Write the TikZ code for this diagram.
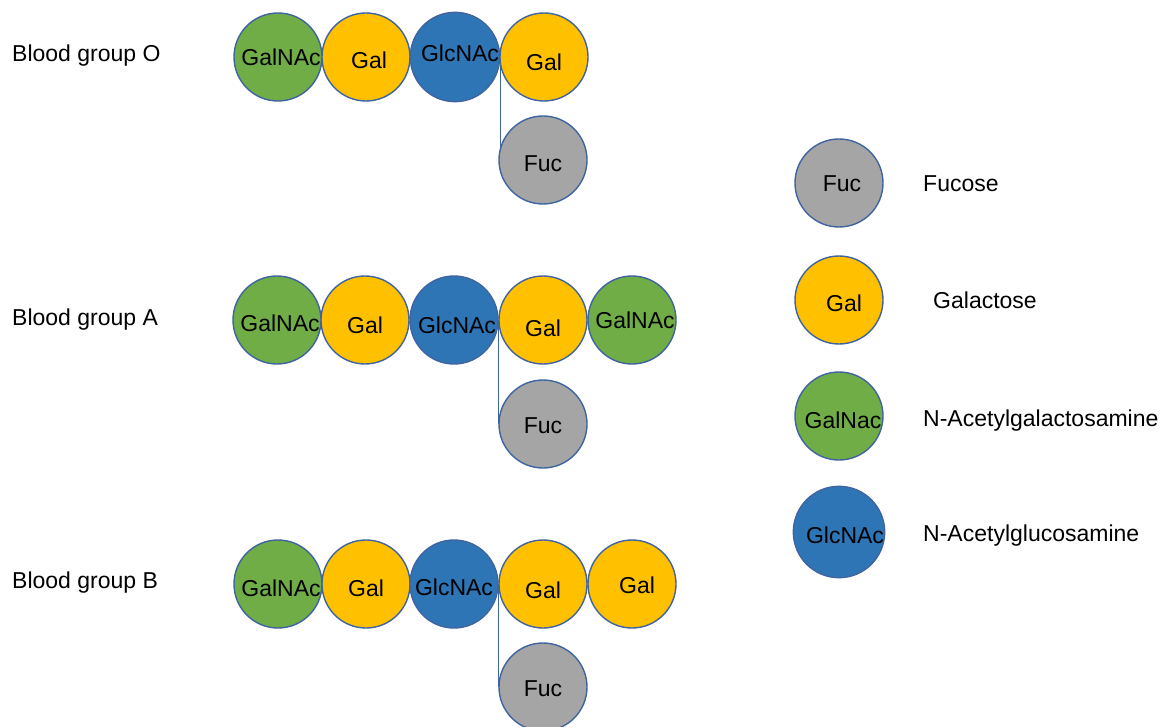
\documentclass[tikz,border=0pt]{standalone}
\usepackage{fontspec}
\setmainfont{Liberation Sans}
\usetikzlibrary{backgrounds}
\definecolor{outl}{HTML}{3F64A0}
\definecolor{cgreen}{HTML}{70AD47}
\definecolor{cgold}{HTML}{FFC000}
\definecolor{cblue}{HTML}{2E75B6}
\definecolor{cgray}{HTML}{A5A5A5}
\begin{document}
\begin{tikzpicture}[x=1pt,y=-1pt,
  sug/.style={circle,draw=outl,line width=1.4pt,minimum size=88pt,inner sep=0pt,
    font=\fontsize{23}{26}\selectfont,text height=16.5pt,text depth=0pt},
  galnac/.style={sug,fill=cgreen},
  gal/.style={sug,fill=cgold},
  glcnac/.style={sug,fill=cblue},
  fuc/.style={sug,fill=cgray},
  lbl/.style={anchor=west,inner sep=0pt,font=\fontsize{23}{26}\selectfont,text height=16.5pt,text depth=0pt},
  link/.style={draw=outl,line width=1.4pt}]
\useasboundingbox (0,0) rectangle (1164,727);

% Row labels
\node[lbl] (lO) at (12,53) {Blood group O};
\node[lbl] (lA) at (12,317) {Blood group A};
\node[lbl] (lB) at (12,580) {Blood group B};

% Blood group O
\node[galnac] (o1) at (278,57) {\hspace*{6pt}GalNAc};
\node[gal] (o2) at (366,57) {\raisebox{-3pt}{\hspace*{6pt}Gal}};
\node[glcnac] (o3) at (455,57) {\raisebox{4pt}{\hspace*{10pt}GlcNAc}};
\node[gal] (o4) at (544,57) {\raisebox{-5pt}{Gal}};
\node[fuc] (o5) at (543,160) {\raisebox{-3pt}{Fuc}};

% Blood group A
\node[galnac] (a1) at (277,320) {\raisebox{-3pt}{\hspace*{6pt}GalNAc}};
\node[gal] (a2) at (365,320) {\raisebox{-5pt}{Gal}};
\node[glcnac] (a3) at (454,320) {\raisebox{-5pt}{\hspace*{6pt}GlcNAc}};
\node[gal] (a4) at (543,320) {\raisebox{-8pt}{Gal}};
\node[galnac] (a5) at (632,320) {\hspace*{6pt}GalNAc};
\node[fuc] (a6) at (543,424) {\raisebox{-1pt}{Fuc}};

% Blood group B
\node[galnac] (b1) at (278,584) {\raisebox{-4pt}{\hspace*{6pt}GalNAc}};
\node[gal] (b2) at (366,584) {\raisebox{-4pt}{Gal}};
\node[glcnac] (b3) at (454,584) {\raisebox{-3pt}{GlcNAc}};
\node[gal] (b4) at (543,584) {\raisebox{-6pt}{Gal}};
\node[gal] (b5) at (632,584) {\raisebox{-1pt}{\hspace*{10pt}Gal}};
\node[fuc] (b6) at (543,687) {\raisebox{-1pt}{Fuc}};

% Legend
\node[fuc] (k1) at (839,183) {\hspace*{6pt}Fuc};
\node[gal] (k2) at (839,300) {\raisebox{-3pt}{\hspace*{10pt}Gal}};
\node[galnac] (k3) at (839,416) {\raisebox{-4pt}{\hspace*{8pt}GalNac}};
\node[glcnac] (k4) at (839,532) {\raisebox{-3pt}{\hspace*{12pt}GlcNAc}};
\node[lbl] (t1) at (923,183) {Fucose};
\node[lbl] (t2) at (933,300) {Galactose};
\node[lbl] (t3) at (923,418) {N-Acetylgalactosamine};
\node[lbl] (t4) at (923,533) {N-Acetylglucosamine};

% Fucose links
\begin{scope}[on background layer]
\draw[link] (o3.east) -- (o3.east |- o5.west);
\draw[link] (a3.east) -- (a3.east |- a6.west);
\draw[link] (b3.east) -- (b3.east |- b6.west);
\end{scope}
\end{tikzpicture}
\end{document}
